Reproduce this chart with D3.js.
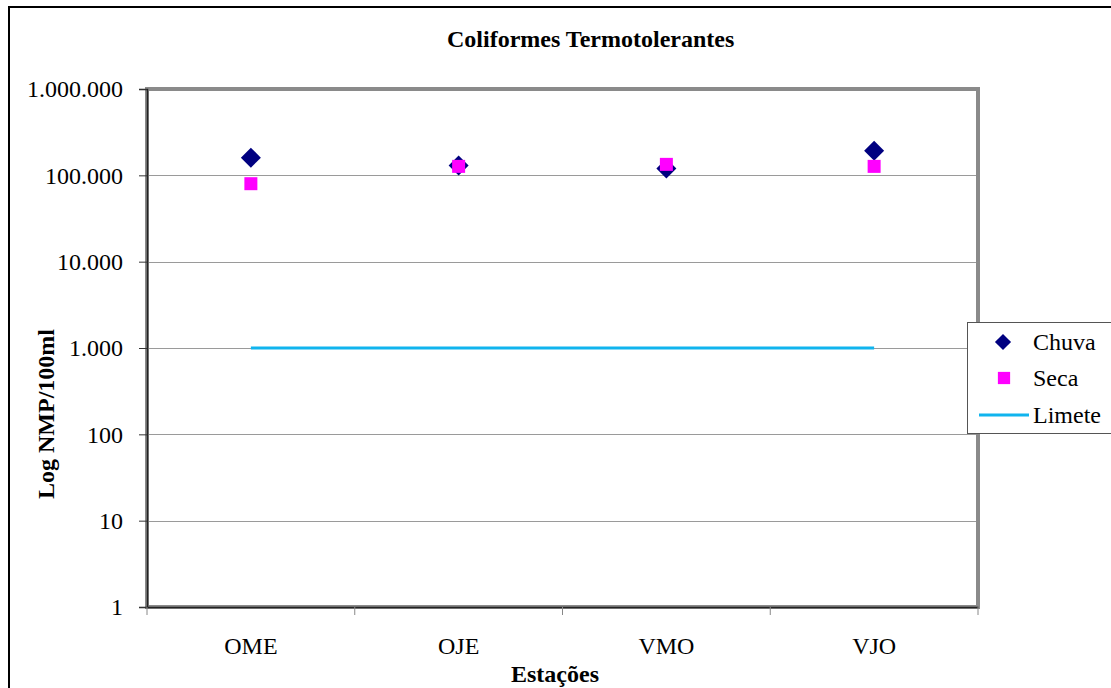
<!DOCTYPE html>
<html>
<head>
<meta charset="utf-8">
<script src="https://cdn.jsdelivr.net/npm/d3@7"></script>
<style>
  html, body { margin: 0; padding: 0; background: #fff; }
  svg { display: block; }
  text { font-family: "Liberation Serif", "Times New Roman", serif; fill: #000; }
</style>
</head>
<body>
<svg id="chart" width="1111" height="688"></svg>
<script>
const categories = ["OME", "OJE", "VMO", "VJO"];
const chuva = [160000, 130000, 120000, 193000];
const seca = [80000, 127000, 134000, 127000];
const limete = [1000, 1000, 1000, 1000];
const yTickValues = [1, 10, 100, 1000, 10000, 100000, 1000000];
const yTickLabels = ["1", "10", "100", "1.000", "10.000", "100.000", "1.000.000"];
const title = "Coliformes Termotolerantes";
const xTitle = "Estações";
const yTitle = "Log NMP/100ml";
const legendLabels = ["Chuva", "Seca", "Limete"];

const svg = d3.select("#chart");
const W = 1111, H = 688;
const plot = { left: 147, top: 89, right: 978, bottom: 607 };
const FONT = "'Liberation Serif', 'Times New Roman', serif";

// outer border (chart extends past the right/bottom edge of the picture)
svg.append("rect").attr("x", 9).attr("y", 7).attr("width", W + 20).attr("height", H + 20)
  .attr("fill", "#fff").attr("stroke", "#000").attr("stroke-width", 2);

const x = d3.scaleBand().domain(categories).range([plot.left, plot.right]);
const y = d3.scaleLog().domain([1, 1000000]).range([plot.bottom, plot.top]);

// gridlines
svg.append("g").selectAll("line").data(yTickValues.slice(1, -1)).join("line")
  .attr("x1", plot.left).attr("x2", plot.right)
  .attr("y1", d => Math.round(y(d)) + 0.5).attr("y2", d => Math.round(y(d)) + 0.5)
  .attr("stroke", "#9a9a9a").attr("stroke-width", 1);

// plot frame
svg.append("rect").attr("x", plot.left).attr("y", plot.top)
  .attr("width", plot.right - plot.left).attr("height", plot.bottom - plot.top)
  .attr("fill", "none").attr("stroke", "#8a8a8a").attr("stroke-width", 4);

// y axis
const yAxis = d3.axisLeft(y).tickValues(yTickValues)
  .tickFormat((d, i) => yTickLabels[i]).tickSize(8).tickPadding(16);
const gy = svg.append("g").attr("transform", `translate(${plot.left},0)`).call(yAxis);
gy.attr("font-family", null);
gy.select(".domain").attr("stroke", "#222").attr("stroke-width", 1.5);
gy.selectAll(".tick line").attr("stroke", "#333");
gy.selectAll(".tick text").style("font-size", "24px").style("font-family", FONT).attr("fill", "#000");

// x axis
const xAxis = d3.axisBottom(x).tickSize(0).tickPadding(30);
const gx = svg.append("g").attr("transform", `translate(0,${plot.bottom})`).call(xAxis);
gx.attr("font-family", null);
gx.select(".domain").attr("stroke", "#222").attr("stroke-width", 1.5);
gx.selectAll(".tick text").style("font-size", "24px").style("font-family", FONT).attr("fill", "#000");
// category separator ticks
const bounds = categories.map(c => x(c)).concat([x(categories[categories.length - 1]) + x.bandwidth()]);
svg.append("g").selectAll("line").data(bounds).join("line")
  .attr("x1", d => d).attr("x2", d => d)
  .attr("y1", plot.bottom).attr("y2", plot.bottom + 8)
  .attr("stroke", "#888").attr("stroke-width", 1);

// Limete line
const line = d3.line().x((d, i) => x(categories[i]) + x.bandwidth() / 2).y(d => y(d));
svg.append("path").datum(limete).attr("d", line)
  .attr("fill", "none").attr("stroke", "#10b4ee").attr("stroke-width", 3);

// Chuva diamonds
const diamond = d3.symbol().type(d3.symbolSquare).size(200);
svg.append("g").selectAll("path").data(chuva).join("path")
  .attr("d", diamond())
  .attr("transform", (d, i) => `translate(${x(categories[i]) + x.bandwidth() / 2},${y(d)}) rotate(45)`)
  .attr("fill", "#000080");

// Seca squares
const square = d3.symbol().type(d3.symbolSquare).size(169);
svg.append("g").selectAll("path").data(seca).join("path")
  .attr("d", square())
  .attr("transform", (d, i) => `translate(${x(categories[i]) + x.bandwidth() / 2},${y(d)})`)
  .attr("fill", "#ff00ff");

// title
svg.append("text").attr("x", 447).attr("y", 47).attr("text-anchor", "start")
  .style("font-size", "24px").style("font-weight", "bold").style("font-family", FONT).text(title);

// axis titles
svg.append("text").attr("x", 555).attr("y", 682).attr("text-anchor", "middle")
  .style("font-size", "24px").style("font-weight", "bold").style("font-family", FONT).text(xTitle);
svg.append("text").attr("transform", "translate(54,414) rotate(-90)").attr("text-anchor", "middle")
  .style("font-size", "24px").style("font-weight", "bold").style("font-family", FONT).text(yTitle);

// legend
const lg = svg.append("g");
lg.append("rect").attr("x", 967.5).attr("y", 322.5).attr("width", 160).attr("height", 111)
  .attr("fill", "#fff").attr("stroke", "#555").attr("stroke-width", 1);
const rowY = [342, 378, 415];
lg.append("path").attr("d", d3.symbol().type(d3.symbolSquare).size(130)())
  .attr("transform", `translate(1003,${rowY[0]}) rotate(45)`).attr("fill", "#000080");
lg.append("path").attr("d", d3.symbol().type(d3.symbolSquare).size(150)())
  .attr("transform", `translate(1004,${rowY[1]})`).attr("fill", "#ff00ff");
lg.append("line").attr("x1", 979).attr("x2", 1029).attr("y1", rowY[2]).attr("y2", rowY[2])
  .attr("stroke", "#10b4ee").attr("stroke-width", 3);
lg.selectAll("text").data(legendLabels).join("text")
  .attr("x", 1033).attr("y", (d, i) => rowY[i] + 8)
  .style("font-size", "24px").style("font-family", FONT).text(d => d);
</script>
</body>
</html>
